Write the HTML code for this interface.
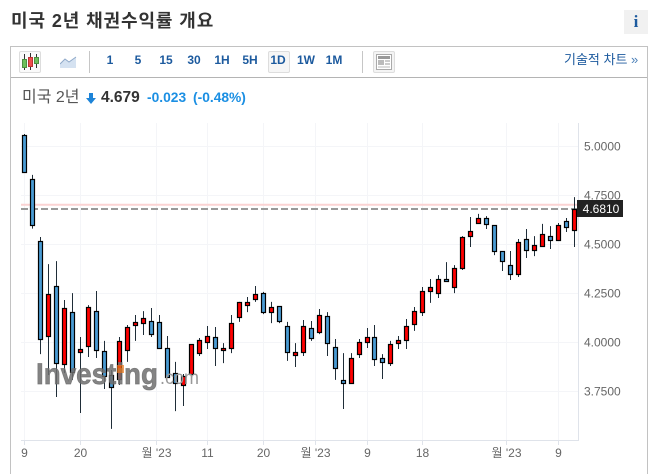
<!DOCTYPE html>
<html lang="ko">
<head>
<meta charset="utf-8">
<title>미국 2년 채권수익률 개요</title>
<style>
html,body{margin:0;padding:0;background:#fff;}
#page{position:relative;width:649px;height:474px;overflow:hidden;background:#fff;font-family:"Liberation Sans","Noto Sans CJK KR",sans-serif;}
#page div,#page span{position:absolute;white-space:nowrap;}
.tf{top:52px;font-size:12px;font-weight:bold;color:#1c5a9e;line-height:16px;text-align:center;width:24px;}
#chart{position:absolute;left:0;top:0;}
</style>
</head>
<body>
<div id="page">
  <div style="left:11px;top:8px;font-size:18px;font-weight:bold;color:#333;line-height:26px;letter-spacing:0.9px;">미국 2년 채권수익률 개요</div>
  <div style="left:624px;top:10px;width:24px;height:24px;background:#f1f1f1;color:#1c5a9e;font:bold 17px/24px 'Liberation Serif',serif;text-align:center;">i</div>
  <div style="left:10px;top:46px;width:636px;height:440px;border:1px solid #c2c2c2;"></div>
  <div style="left:11px;top:77px;width:636px;height:1px;background:#b4b4b4;"></div>

  <div style="left:19px;top:51px;width:20px;height:20px;border:1px solid #ddd;border-radius:2px;background:#fafafa;">
    <svg width="20" height="20" style="display:block">
      <path d="M4.500 2V18M10.500 1V18M16.500 2V16" stroke="#333" stroke-width="1"/>
      <rect x="2.500" y="7.500" width="4" height="8" fill="#6cbf5a" stroke="#4d8f40"/>
      <rect x="8.500" y="5.500" width="4" height="9" fill="#ee4d4d" stroke="#b33"/>
      <rect x="14.500" y="5.500" width="4" height="6" fill="#6cbf5a" stroke="#4d8f40"/>
    </svg>
  </div>
  <div style="left:60px;top:56px;width:17px;height:13px;">
    <svg width="17" height="13" style="display:block">
      <path d="M0 8L5 3L9 6L16 1V12H0Z" fill="#d5e2f1"/>
      <path d="M0 8L5 3L9 6L16 1" fill="none" stroke="#8fa9c9"/>
    </svg>
  </div>
  <div style="left:89px;top:51px;width:1px;height:22px;background:#c6c6c6;"></div>
  <div class="tf" style="left:98px;">1</div>
  <div class="tf" style="left:126px;">5</div>
  <div class="tf" style="left:154px;">15</div>
  <div class="tf" style="left:182px;">30</div>
  <div class="tf" style="left:210px;">1H</div>
  <div class="tf" style="left:238px;">5H</div>
  <div style="left:268px;top:51px;width:20px;height:20px;border:1px solid #ddd;border-radius:2px;background:#f6f6f6;"></div>
  <div class="tf" style="left:266px;">1D</div>
  <div class="tf" style="left:294px;">1W</div>
  <div class="tf" style="left:322px;">1M</div>
  <div style="left:362px;top:51px;width:1px;height:22px;background:#c6c6c6;"></div>
  <div style="left:373px;top:51px;width:20px;height:20px;border:1px solid #ddd;border-radius:2px;background:#f4f4f4;">
    <svg width="20" height="20" style="display:block">
      <rect x="2.500" y="2.500" width="15" height="15" fill="#fff" stroke="#aaa"/>
      <rect x="4" y="4" width="12" height="3" fill="#999"/>
      <rect x="4" y="8" width="6" height="5" fill="#bbb"/>
      <rect x="11" y="8" width="5" height="2" fill="#ccc"/>
      <rect x="11" y="11" width="5" height="2" fill="#ccc"/>
      <rect x="4" y="14.500" width="12" height="1" fill="#bbb"/>
    </svg>
  </div>
  <div style="left:564px;top:51px;font-size:13px;color:#1c5a9e;line-height:18px;">기술적 차트 <span style="position:static;color:#4a7fb8;">»</span></div>

  <div style="left:22px;top:87px;font-size:16px;color:#555;line-height:22px;">미국 2년</div>
  <svg width="10" height="11" style="position:absolute;left:86px;top:93px;"><path d="M3 0H7V5H10L5 11L0 5H3Z" fill="#1d84d8"/></svg>
  <div style="left:101px;top:88px;font-size:15.500px;font-weight:bold;color:#333;line-height:20px;">4.679</div>
  <div style="left:147px;top:89px;font-size:13.800px;font-weight:bold;color:#1b8fe3;line-height:18px;">-0.023</div>
  <div style="left:193px;top:89px;font-size:13.800px;font-weight:bold;color:#1b8fe3;line-height:18px;">(-0.48%)</div>

  <svg id="chart" width="649" height="474" style="font-family:'Liberation Sans','Noto Sans CJK KR',sans-serif;"></svg>
</div>

<script>
const opens  = [5.059,4.832,4.518,4.033,4.288,3.890,4.155,3.951,3.982,4.160,3.957,3.834,3.814,3.962,4.089,4.099,4.110,4.105,3.972,3.844,3.783,3.839,3.946,4.003,4.028,3.962,3.972,4.130,4.191,4.222,4.252,4.155,4.186,4.084,3.936,3.951,4.074,4.054,4.135,3.977,3.809,3.793,3.941,4.003,4.028,3.921,3.895,3.997,4.013,4.094,4.155,4.263,4.252,4.324,4.283,4.380,4.543,4.610,4.635,4.599,4.467,4.395,4.349,4.528,4.472,4.492,4.543,4.523,4.620,4.574];
const highs  = [5.064,4.855,4.538,4.400,4.415,4.217,4.252,4.028,4.191,4.263,4.008,3.860,4.028,4.089,4.140,4.160,4.176,4.140,4.033,3.901,3.839,3.992,4.023,4.084,4.079,3.997,4.140,4.207,4.232,4.288,4.258,4.207,4.186,4.105,3.997,4.115,4.110,4.171,4.155,4.018,3.946,3.946,4.018,4.074,4.089,3.941,4.008,4.033,4.120,4.181,4.283,4.324,4.344,4.410,4.395,4.543,4.640,4.656,4.645,4.599,4.467,4.467,4.528,4.579,4.543,4.605,4.594,4.610,4.635,4.742];
const lows   = [4.872,4.581,3.941,3.834,3.722,3.844,3.809,3.640,3.926,3.921,3.763,3.559,3.783,3.901,4.008,4.038,4.028,3.970,3.824,3.650,3.676,3.834,3.931,3.967,3.880,3.895,3.946,4.105,4.155,4.207,4.145,4.099,4.099,3.906,3.875,3.931,4.008,4.043,3.931,3.809,3.661,3.793,3.921,3.972,3.880,3.814,3.880,3.967,3.967,4.059,4.135,4.202,4.227,4.309,4.252,4.370,4.487,4.610,4.579,4.446,4.365,4.319,4.334,4.431,4.441,4.487,4.477,4.518,4.564,4.487];
const closes = [4.872,4.599,4.018,4.247,3.895,4.176,3.849,3.967,4.181,3.962,3.829,3.773,4.008,4.079,4.105,4.125,4.043,3.972,3.824,3.793,3.829,3.992,4.013,4.033,3.972,3.972,4.099,4.207,4.207,4.247,4.155,4.181,4.110,3.951,3.951,4.084,4.023,4.140,3.997,3.870,3.793,3.921,4.003,4.028,3.916,3.901,3.992,4.013,4.084,4.160,4.263,4.283,4.324,4.314,4.380,4.538,4.569,4.635,4.605,4.467,4.416,4.349,4.513,4.472,4.497,4.554,4.523,4.599,4.589,4.681];
const yTicks = [5.0,4.75,4.5,4.25,4.0,3.75];
const xTickIndexes = [0,7,16.55,23,30,36.55,43,50,60.55,67];
const xTickLabels = ["9","20","월 '23","11","20","월 '23","9","18","월 '23","9"];
const lastPrice = 4.681;
const refPrice = 4.703;

const svg = document.getElementById('chart');
const NS = 'http://www.w3.org/2000/svg';
const plotLeft = 21, plotRight = 578, plotTop = 123, plotBottom = 440;
function xScale(i){ return 24.3 + i * 7.97; }
function yScale(v){ return 146.5 + (5 - v) * 196; }
function crisp(p){ return Math.round(p - 0.5) + 0.5; }
function make(tag, attrs, parent){
  const el = document.createElementNS(NS, tag);
  for (const k in attrs) el.setAttribute(k, attrs[k]);
  (parent || svg).appendChild(el);
  return el;
}

yTicks.forEach(function(t){
  const y = crisp(yScale(t) + 0.4);
  const g = make('line', {x1: plotLeft, x2: plotRight, y1: y, y2: y, stroke: '#f4f5f8'});
  
  
  const lab = make('text', {x: 584, y: y + 4, 'font-size': 12, fill: '#666'});
  
  
  lab.textContent = t.toFixed(4);
});

xTickIndexes.forEach(function(ix, n){
  const x = crisp(xScale(ix));
  const g = make('line', {x1: x, x2: x, y1: plotTop, y2: plotBottom, stroke: '#f4f5f8'});
  
  
  const tick = make('line', {x1: x, x2: x, y1: plotBottom, y2: plotBottom + 5, stroke: '#dfe3ea'});
  
  
  const lab = make('text', {x: x, y: 457, 'font-size': 12, fill: '#666', 'text-anchor': 'middle'});
  
  
  lab.textContent = xTickLabels[n];
});

const xAxis = make('line', {x1: plotLeft, x2: plotRight + 1, y1: plotBottom + 0.5, y2: plotBottom + 0.5, stroke: '#dfe3ea'});


const yAxis = make('line', {x1: plotRight + 0.5, x2: plotRight + 0.5, y1: plotTop, y2: plotBottom, stroke: '#dfe3ea'});



const refY = yScale(refPrice);
const refLine = make('line', {x1: plotLeft, x2: plotRight, y1: refY, y2: refY, stroke: '#fbd3d3', 'stroke-width': 2});


const lastY = Math.round(yScale(lastPrice));
const lastLine = make('line', {x1: plotLeft, x2: plotRight, y1: lastY, y2: lastY, stroke: '#999', 'stroke-width': 2, 'stroke-dasharray': '7 3'});



closes.forEach(function(c, i){
  const o = opens[i];
  const x = crisp(xScale(i));
  const top = Math.round(yScale(Math.max(o, c)));
  const bot = Math.round(yScale(Math.min(o, c)));
  const group = make('g', {});
  
  
  const wick = make('line', {x1: x, x2: x, y1: yScale(highs[i]), y2: yScale(lows[i]), stroke: '#1f2d38'}, group);
  
  
  const body = make('rect', {x: x - 2, y: top + 0.5, width: 4, height: Math.max(bot - top, 1), fill: c >= o ? '#ff0000' : '#4a9bd4', stroke: '#000', 'stroke-width': 1.2});
  
  
});

const wm = make('text', {x: 36, y: 384, 'font-size': 30, 'font-weight': 'bold', fill: '#6f6f6f', 'fill-opacity': 0.85, stroke: '#6f6f6f', 'stroke-opacity': 0.85, 'stroke-width': 0.7, textLength: 122, lengthAdjust: 'spacingAndGlyphs'});


wm.textContent = 'Investing';
const wmDot = make('rect', {x: 117, y: 365, width: 7, height: 8, fill: '#e8761a', 'fill-opacity': 0.7});


const wmCom = make('text', {x: 160, y: 384, 'font-size': 19, fill: '#999', textLength: 39, lengthAdjust: 'spacingAndGlyphs'});


wmCom.textContent = '.com';

const tag = make('rect', {x: 577, y: lastY - 9, width: 46, height: 17, fill: '#222'});


const tagText = make('text', {x: 601, y: lastY + 4, 'font-size': 12, fill: '#fff', 'text-anchor': 'middle'});


tagText.textContent = lastPrice.toFixed(4);
</script>
</body>
</html>
